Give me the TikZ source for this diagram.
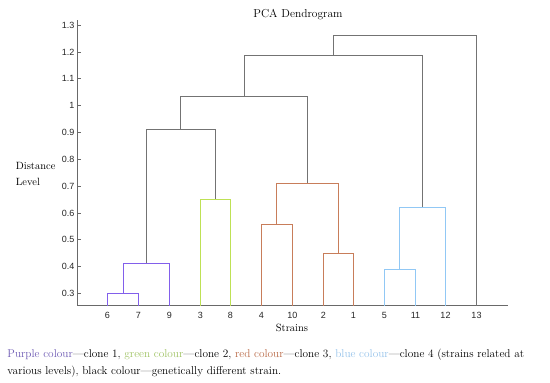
\documentclass[tikz,border=0pt]{standalone}
\usepackage{fontspec}
\setsansfont{Liberation Sans}
\definecolor{cpurple}{RGB}{130,95,235}
\definecolor{cgreen}{RGB}{190,225,85}
\definecolor{cred}{RGB}{200,125,90}
\definecolor{cblue}{RGB}{145,200,245}
\definecolor{cgray}{RGB}{115,115,115}
\definecolor{caxis}{RGB}{105,105,105}
\definecolor{tpurple}{RGB}{110,90,180}
\definecolor{tgreen}{RGB}{160,195,100}
\definecolor{tred}{RGB}{185,105,70}
\definecolor{tblue}{RGB}{150,195,235}
\begin{document}
\begin{tikzpicture}[x=1pt,y=-1pt,
  lnk/.style={line width=1.1pt},
  purp/.style={lnk,draw=cpurple},
  grn/.style={lnk,draw=cgreen},
  redc/.style={lnk,draw=cred},
  blu/.style={lnk,draw=cblue},
  blk/.style={lnk,draw=cgray},
  axisline/.style={line width=0.8pt,draw=caxis},
  ticklab/.style={font=\sffamily\fontsize{9}{9}\selectfont,anchor=east,inner sep=0pt,text=black!85},
  leaflab/.style={font=\sffamily\fontsize{9}{9}\selectfont,anchor=base,inner sep=0pt,text=black!85},
  serifl/.style={font=\fontsize{10.5}{10.5}\selectfont,inner sep=0pt},
  caption/.style={font=\fontsize{11.3}{11.3}\selectfont,inner sep=0pt,anchor=base west}]
\path[use as bounding box,fill=white] (0,0) rectangle (550,383);

% axes
\coordinate (ytop) at (77.5,20);
\coordinate (orig) at (77.5,305.5);
\coordinate (xend) at (507.5,305.5);
\draw[axisline] (ytop) -- (orig) -- (xend);
\foreach \v/\y [count=\i] in {0.3/293.5,0.4/266.5,0.5/239.5,0.6/213.5,0.7/186.5,0.8/159.5,0.9/132.5,1/105.5,1.1/78.5,1.2/52.5,1.3/25.5}{
  \coordinate (tk\i) at (77.5,\y);
  \draw[axisline] (tk\i) -- ++(3,0);
  \node[ticklab] (yl\i) at (74.5,\y) {\v};
}

% leaves
\foreach \n/\x in {6/107.5,7/138.5,9/169.5,3/200.5,8/230.5,4/261.5,10/292.5,2/323.5,1/353.5,5/384.5,11/415.5,12/445.5,13/476.5}{
  \coordinate (l\n) at (\x,305.5);
  \node[leaflab] (t\n) at (\x,318) {\n};
}

% merge points
\coordinate (m67) at (123.5,293.5);
\coordinate (m679) at (146.5,263.5);
\coordinate (m38) at (215.5,199.5);
\coordinate (mPG) at (180.5,129.5);
\coordinate (m410) at (276.5,224.5);
\coordinate (m21) at (338.5,253.5);
\coordinate (mR) at (307.5,183.5);
\coordinate (mK) at (244.5,96.5);
\coordinate (m511) at (399.5,269.5);
\coordinate (mB) at (422.5,207.5);
\coordinate (mKB) at (333.5,55.5);
\coordinate (mTop) at (405,35.5);

\draw[blk] (m679) |- (mPG) -| (m38);
\draw[blk] (mPG) |- (mK) -| (mR);
\draw[blk] (mK) |- (mKB) -| (mB);
\draw[blk] (mKB) |- (mTop) -| (l13);
\draw[purp] (l6) |- (m67) -| (l7);
\draw[purp] (m67) |- (m679) -| (l9);
\draw[grn] (l3) |- (m38) -| (l8);
\draw[redc] (l4) |- (m410) -| (l10);
\draw[redc] (l2) |- (m21) -| (l1);
\draw[redc] (m410) |- (mR) -| (m21);
\draw[blu] (l5) |- (m511) -| (l11);
\draw[blu] (m511) |- (mB) -| (l12);

% texts
\node[serifl,font=\fontsize{11.5}{11.5}\selectfont,anchor=base] (title) at (298,17.5) {PCA Dendrogram};
\node[serifl,anchor=base west] (yt1) at (15.7,169.3) {Distance};
\node[serifl,anchor=base west] (yt2) at (15.7,185.3) {Level};
\node[serifl,anchor=base] (xt) at (292,331) {Strains};

\node[caption] (cap1) at (7.3,357) {\textcolor{tpurple}{Purple colour}\textemdash clone 1, \textcolor{tgreen}{green colour}\textemdash clone 2, \textcolor{tred}{red colour}\textemdash clone 3, \textcolor{tblue}{blue colour}\textemdash clone 4 (strains related at};
\node[caption] (cap2) at (7.3,374.5) {various levels), black colour\textemdash genetically different strain.};
\end{tikzpicture}
\end{document}
